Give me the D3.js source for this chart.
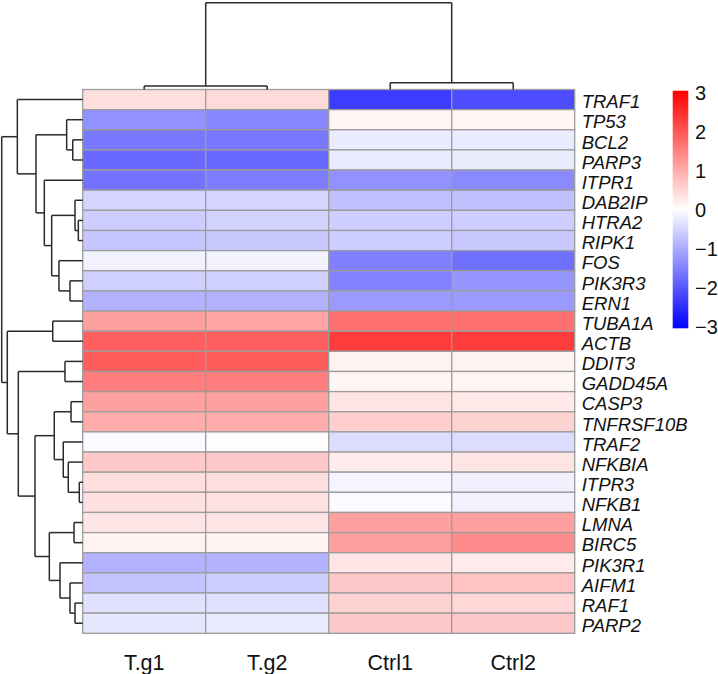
<!DOCTYPE html>
<html><head><meta charset="utf-8">
<script src="https://cdn.jsdelivr.net/npm/d3@7/dist/d3.min.js"></script>
<style>body{margin:0;background:#fff}svg{display:block}</style>
</head><body>
<svg id="chart" width="718" height="674"></svg>
<script>
// ---------- data ----------
const genes = ["TRAF1","TP53","BCL2","PARP3","ITPR1","DAB2IP","HTRA2","RIPK1","FOS","PIK3R3","ERN1",
  "TUBA1A","ACTB","DDIT3","GADD45A","CASP3","TNFRSF10B","TRAF2","NFKBIA","ITPR3","NFKB1",
  "LMNA","BIRC5","PIK3R1","AIFM1","RAF1","PARP2"];
const samples = ["T.g1","T.g2","Ctrl1","Ctrl2"];
const tg1   = [0.39,-1.29,-1.59,-1.76,-1.65,-0.50,-0.59,-0.67,-0.15,-0.55,-0.91, 1.12,1.88,1.92,1.53,1.12,0.98,-0.06,0.65,0.39,0.36, 0.29,0.15,-0.91,-0.71,-0.35,-0.29];
const tg2   = [0.43,-1.41,-1.60,-1.76,-1.53,-0.50,-0.53,-0.65,-0.15,-0.55,-0.91, 1.06,1.88,1.92,1.53,1.12,0.98, 0.02,0.65,0.39,0.35, 0.29,0.15,-0.91,-0.59,-0.35,-0.24];
const ctrl1 = [-2.29,0.12,-0.24,-0.24,-1.29,-0.74,-0.59,-0.59,-1.49,-1.47,-1.18, 1.68,2.29,0.15,0.12,0.32,0.59,-0.41,0.24,-0.12,-0.06, 1.12,1.12,0.29,0.65,0.53,0.65];
const ctrl2 = [-2.10,0.12,-0.24,-0.22,-1.38,-0.74,-0.59,-0.65,-1.68,-1.24,-1.18, 1.68,2.29,0.15,0.12,0.27,0.53,-0.41,0.32,-0.18,-0.15, 1.12,1.35,0.24,0.71,0.47,0.65];
const legendTicks = [3,2,1,0,-1,-2,-3];
// row dendrogram: [height, left, right]; leaves are gene names
const rowTree = [10.0,
  [8.07, "TRAF1",
    [5.77,
      [1.98, "TP53", [1.23, "BCL2", "PARP3"]],
      [4.74, "ITPR1",
        [3.83,
          [0.95, "DAB2IP", [0.54, "HTRA2", "RIPK1"]],
          [2.93, "FOS", [1.57, "PIK3R3", "ERN1"]]]]]],
  [9.31,
    [3.70, "TUBA1A", "ACTB"],
    [7.95,
      [2.19, "DDIT3", "GADD45A"],
      [5.89,
        [3.51,
          [1.44, "CASP3", "TNFRSF10B"],
          [2.40, "TRAF2", [1.78, "NFKBIA", [0.42, "ITPR3", "NFKB1"]]]],
        [4.12,
          [1.07, "LMNA", "BIRC5"],
          [2.80, "PIK3R1", [1.57, "AIFM1", [0.95, "RAF1", "PARP2"]]]]]]]];
const colTree = [10.0, [0.40, "T.g1", "T.g2"], [0.78, "Ctrl1", "Ctrl2"]];

// ---------- layout ----------
const svg = d3.select("#chart");
const hmLeft = 82.7, hmRight = 574.7, hmTop = 89.5, hmBottom = 633.3;
const x = d3.scaleBand().domain(samples).range([hmLeft, hmRight]);
const y = d3.scaleBand().domain(genes).range([hmTop, hmBottom]);
const color = d3.scaleLinear().domain([-3,0,3]).range(["#0000ff","#ffffff","#ff0000"]).clamp(true);
const cols = [tg1, tg2, ctrl1, ctrl2];
const FONT = "'Liberation Sans', Arial, Helvetica, sans-serif";

const cells = [];
genes.forEach((g,i)=>samples.forEach((s,j)=>cells.push({g,s,v:cols[j][i]})));
svg.append("g").selectAll("rect").data(cells).join("rect")
  .attr("x", d=>x(d.s)).attr("y", d=>y(d.g))
  .attr("width", x.bandwidth()).attr("height", y.bandwidth())
  .attr("fill", d=>color(d.v))
  .attr("stroke", "#9c9c9c").attr("stroke-width", 1.3);

// gene labels
svg.append("g").selectAll("text").data(genes).join("text")
  .attr("x", hmRight + 7).attr("y", d=>y(d)+y.bandwidth()/2 + 8.7)
  .attr("font-family", FONT).attr("font-style","italic").attr("font-size", 18.5)
  .attr("fill","#111").text(d=>d);

// sample labels
svg.append("g").selectAll("text").data(samples).join("text")
  .attr("x", d=>x(d)+x.bandwidth()/2).attr("y", 670)
  .attr("text-anchor","middle").attr("font-family", FONT).attr("font-size", 21.5)
  .attr("fill","#111").text(d=>d);

// ---------- dendrograms ----------
function drawTree(tree, pos, hScale, orient, g) {
  // returns {p, h}
  function walk(node) {
    if (typeof node === "string") return {p: pos(node), h: 0};
    const [h, a, b] = node;
    const A = walk(a), B = walk(b);
    const H = hScale(h);
    if (orient === "row") {
      g.append("line").attr("x1",H).attr("x2",H).attr("y1",A.p).attr("y2",B.p);
      g.append("line").attr("x1",H).attr("x2",hScale(A.h)).attr("y1",A.p).attr("y2",A.p);
      g.append("line").attr("x1",H).attr("x2",hScale(B.h)).attr("y1",B.p).attr("y2",B.p);
    } else {
      g.append("line").attr("y1",H).attr("y2",H).attr("x1",A.p).attr("x2",B.p);
      g.append("line").attr("y1",H).attr("y2",hScale(A.h)).attr("x1",A.p).attr("x2",A.p);
      g.append("line").attr("y1",H).attr("y2",hScale(B.h)).attr("x1",B.p).attr("x2",B.p);
    }
    return {p: (A.p + B.p)/2, h};
  }
  walk(tree);
}
const gRow = svg.append("g").attr("stroke","#2a2a2a").attr("stroke-width",1.5).attr("fill","none");
drawTree(rowTree, g=>y(g)+y.bandwidth()/2, d3.scaleLinear().domain([0,10]).range([hmLeft, 1.7]), "row", gRow);
const gCol = svg.append("g").attr("stroke","#2a2a2a").attr("stroke-width",1.5).attr("fill","none");
drawTree(colTree, s=>x(s)+x.bandwidth()/2, d3.scaleLinear().domain([0,10]).range([hmTop, 2.7]), "col", gCol);

// ---------- legend ----------
const defs = svg.append("defs");
const grad = defs.append("linearGradient").attr("id","lg").attr("x1",0).attr("x2",0).attr("y1",0).attr("y2",1);
d3.range(0, 1.0001, 0.05).forEach(t=>{
  grad.append("stop").attr("offset", t).attr("stop-color", color(3 - 6*t));
});
const lgTop = 90.7, lgBottom = 328.3;
svg.append("rect").attr("x",672.7).attr("y",lgTop).attr("width",15.6).attr("height",lgBottom-lgTop).attr("fill","url(#lg)");
const ly = d3.scaleLinear().domain([-3,3]).range([326.5, 92.5]);
svg.append("g").selectAll("text").data(legendTicks).join("text")
  .attr("x", 695).attr("y", d=>ly(d)+7.2)
  .attr("font-family", FONT).attr("font-size", 20).attr("fill","#111")
  .text(d=> d < 0 ? "\u2212" + Math.abs(d) : String(d));
</script>
</body></html>
